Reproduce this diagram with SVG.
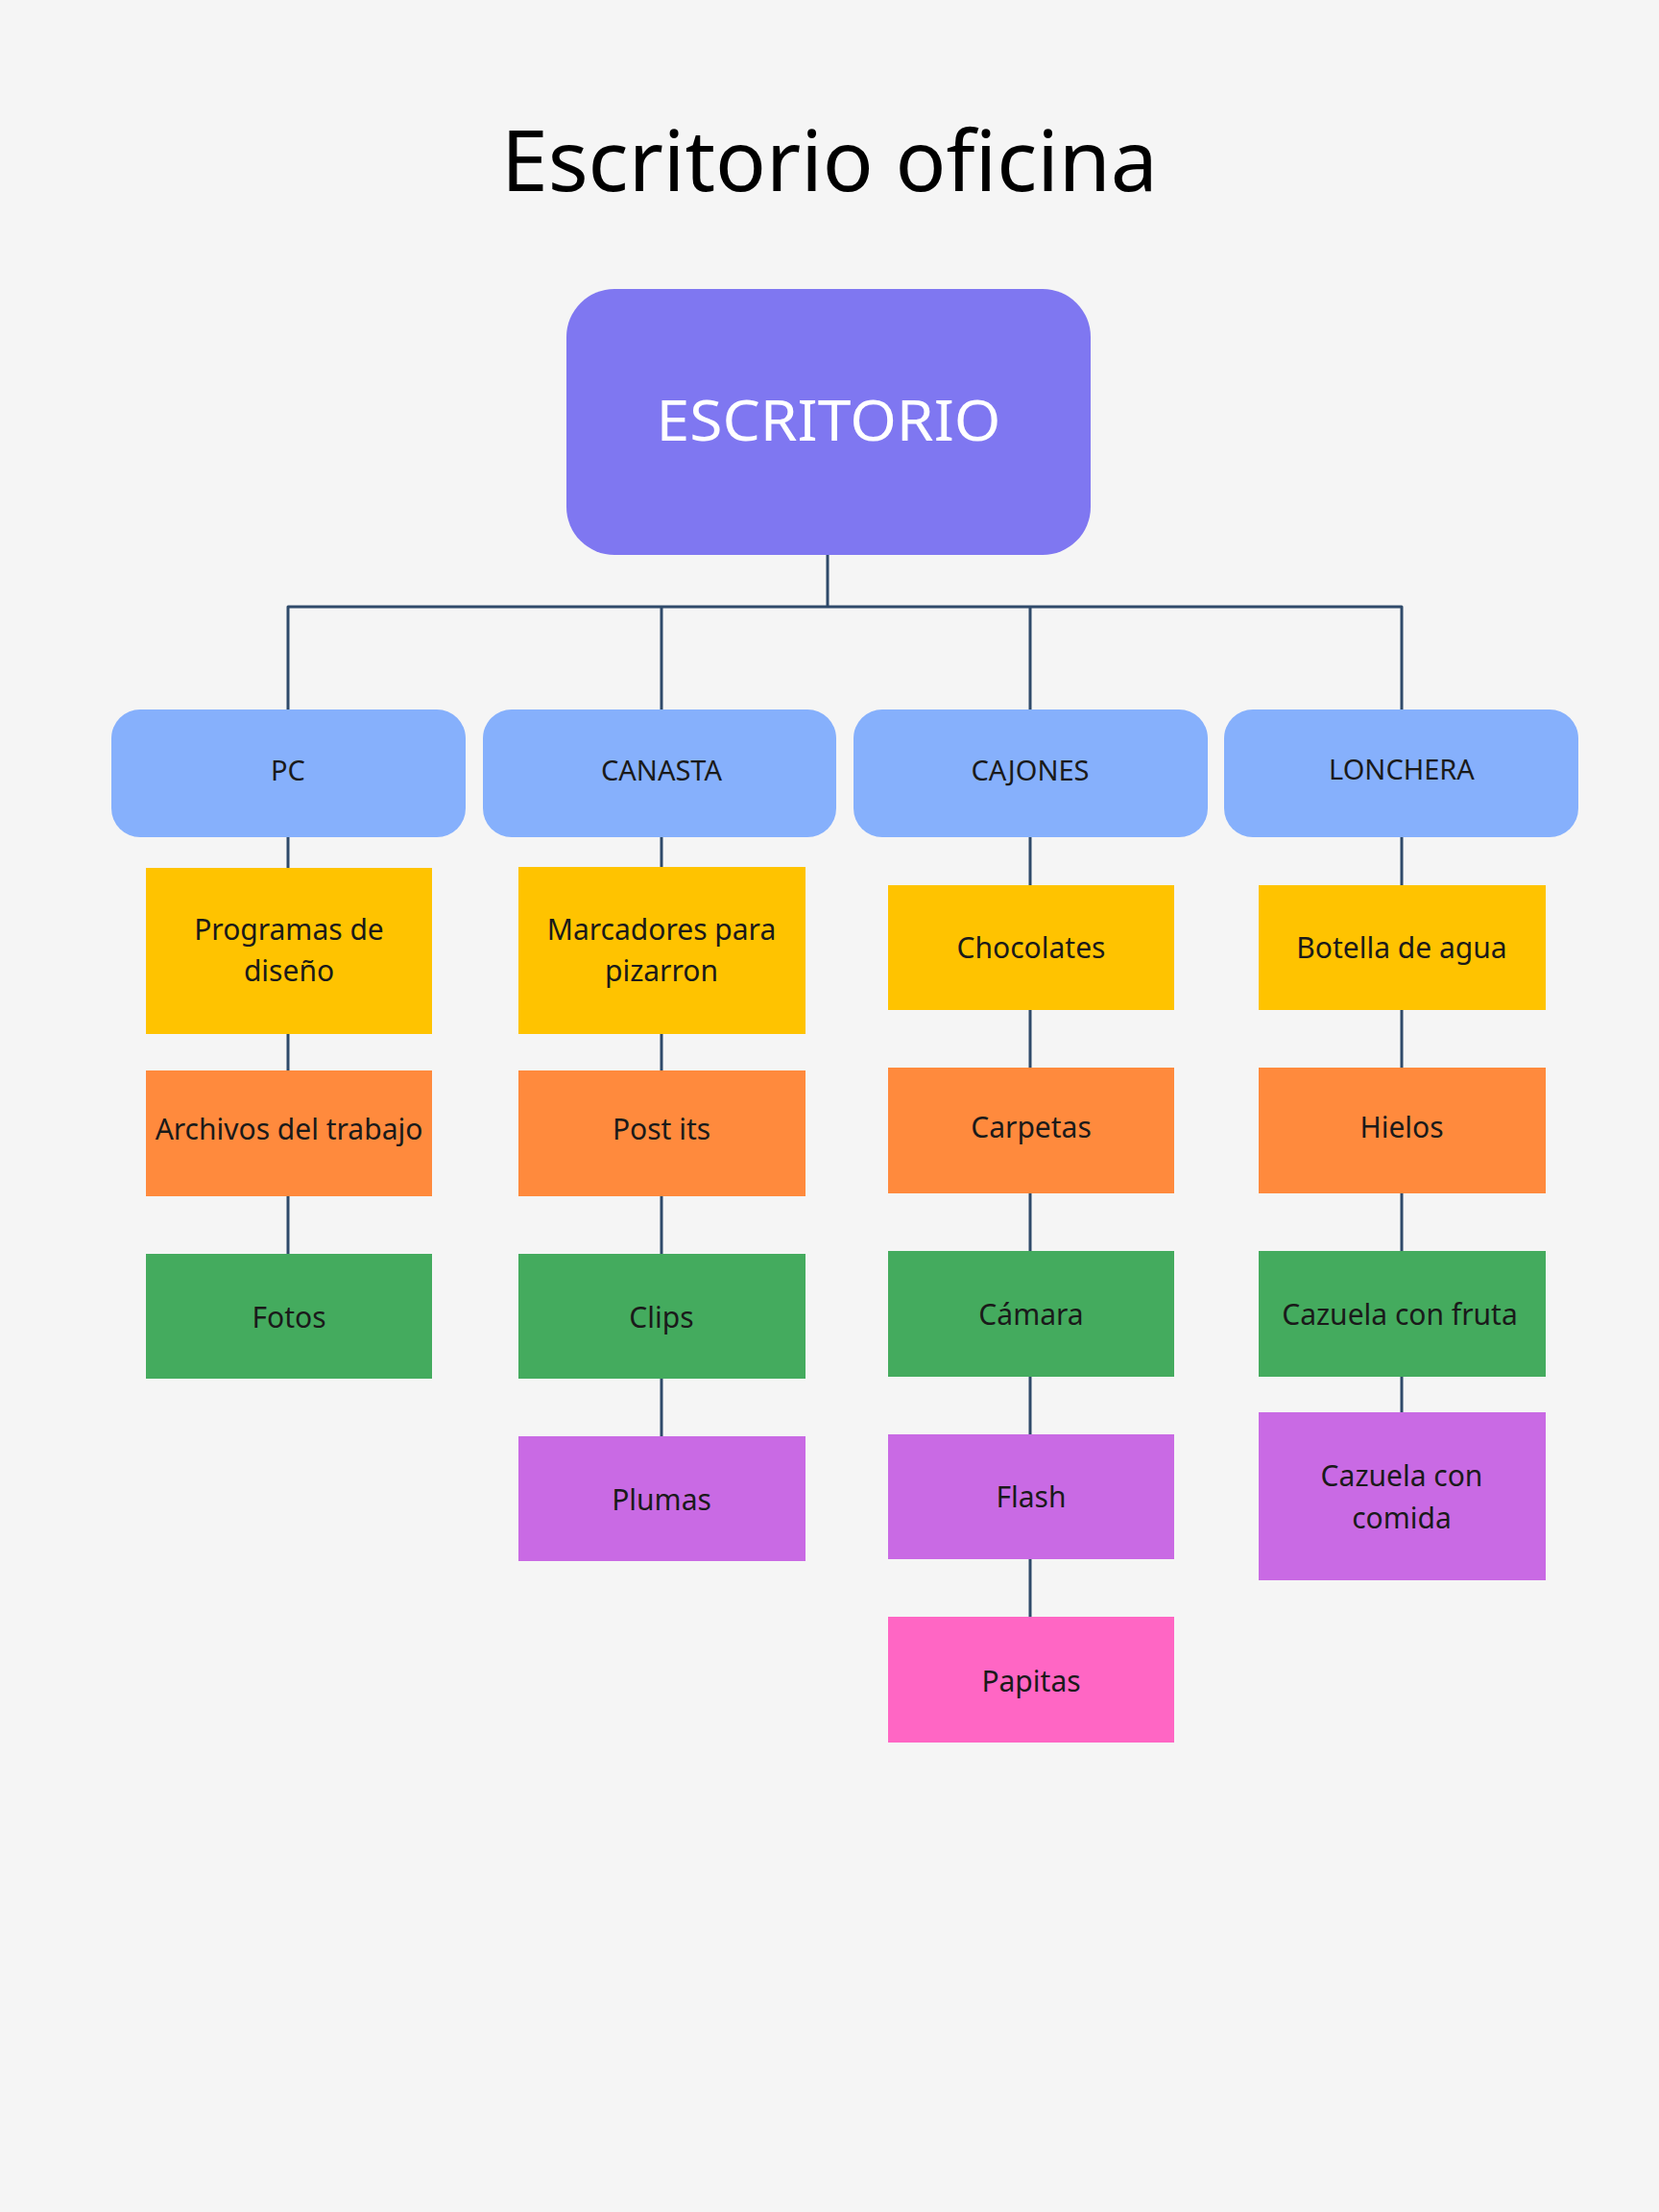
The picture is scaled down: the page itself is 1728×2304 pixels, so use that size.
<svg xmlns="http://www.w3.org/2000/svg" width="1728" height="2304" viewBox="0 0 1728 2304">
<style>
.t{font-family:"Noto Sans","Liberation Sans",sans-serif;fill:#1a1a1a;text-anchor:middle}
.title{font-size:88px;fill:#000}
.root{font-size:59px;fill:#fff}
.cat{font-size:29px}
.c{font-size:30px}
.conn{stroke:#2f4a6a;stroke-width:3;fill:none;stroke-linecap:round;stroke-linejoin:round}
.cb{fill:#86b0fc}
.y{fill:#ffc300}
.o{fill:#ff8a3d}
.g{fill:#44ab5e}
.p{fill:#c96ae4}
.k{fill:#ff66c4}
</style>
<rect width="1728" height="2304" fill="#f5f5f5"/>
<text class="t title" x="864" y="199" textLength="684" lengthAdjust="spacingAndGlyphs">Escritorio oficina</text>
<g id="connectors" class="conn">
<path d="M862 578V632M300 632H1460M300 632V739M689 632V739M1073 632V739M1460 632V739"/>
<path d="M300 872V904M300 1077V1115M300 1246V1306"/>
<path d="M689 872V903M689 1077V1115M689 1246V1306M689 1436V1496"/>
<path d="M1073 872V922M1073 1052V1112M1073 1243V1303M1073 1434V1494M1073 1624V1684"/>
<path d="M1460 872V922M1460 1052V1112M1460 1243V1303M1460 1434V1471"/>
</g>
<g id="root"><rect x="590" y="301" width="546" height="277" rx="50" fill="#7f77f1"/><text class="t root" x="863" y="459" textLength="359" lengthAdjust="spacingAndGlyphs">ESCRITORIO</text></g>
<g id="pc"><rect class="cb" x="116" y="739" width="369" height="133" rx="30"/><text class="t cat" x="300" y="813">PC</text></g>
<g id="canasta"><rect class="cb" x="503" y="739" width="368" height="133" rx="30"/><text class="t cat" x="689" y="813">CANASTA</text></g>
<g id="cajones"><rect class="cb" x="889" y="739" width="369" height="133" rx="30"/><text class="t cat" x="1073" y="813">CAJONES</text></g>
<g id="lonchera"><rect class="cb" x="1275" y="739" width="369" height="133" rx="30"/><text class="t cat" x="1460" y="812">LONCHERA</text></g>

<g id="programas"><rect class="y" x="152" y="904" width="298" height="173"/><text class="t c" x="301" y="979">Programas de</text><text class="t c" x="301" y="1022">diseño</text></g>
<g id="archivos"><rect class="o" x="152" y="1115" width="298" height="131"/><text class="t c" x="301" y="1187">Archivos del trabajo</text></g>
<g id="fotos"><rect class="g" x="152" y="1306" width="298" height="130"/><text class="t c" x="301" y="1383">Fotos</text></g>

<g id="marcadores"><rect class="y" x="540" y="903" width="299" height="174"/><text class="t c" x="689" y="979">Marcadores para</text><text class="t c" x="689" y="1022">pizarron</text></g>
<g id="postits"><rect class="o" x="540" y="1115" width="299" height="131"/><text class="t c" x="689" y="1187">Post its</text></g>
<g id="clips"><rect class="g" x="540" y="1306" width="299" height="130"/><text class="t c" x="689" y="1383">Clips</text></g>
<g id="plumas"><rect class="p" x="540" y="1496" width="299" height="130"/><text class="t c" x="689" y="1573">Plumas</text></g>

<g id="chocolates"><rect class="y" x="925" y="922" width="298" height="130"/><text class="t c" x="1074" y="998">Chocolates</text></g>
<g id="carpetas"><rect class="o" x="925" y="1112" width="298" height="131"/><text class="t c" x="1074" y="1185">Carpetas</text></g>
<g id="camara"><rect class="g" x="925" y="1303" width="298" height="131"/><text class="t c" x="1074" y="1380">Cámara</text></g>
<g id="flash"><rect class="p" x="925" y="1494" width="298" height="130"/><text class="t c" x="1074" y="1570">Flash</text></g>
<g id="papitas"><rect class="k" x="925" y="1684" width="298" height="131"/><text class="t c" x="1074" y="1762">Papitas</text></g>

<g id="botella"><rect class="y" x="1311" y="922" width="299" height="130"/><text class="t c" x="1460" y="998">Botella de agua</text></g>
<g id="hielos"><rect class="o" x="1311" y="1112" width="299" height="131"/><text class="t c" x="1460" y="1185">Hielos</text></g>
<g id="fruta"><rect class="g" x="1311" y="1303" width="299" height="131"/><text class="t c" x="1458" y="1380">Cazuela con fruta</text></g>
<g id="comida"><rect class="p" x="1311" y="1471" width="299" height="175"/><text class="t c" x="1460" y="1548">Cazuela con</text><text class="t c" x="1460" y="1592">comida</text></g>
</svg>
